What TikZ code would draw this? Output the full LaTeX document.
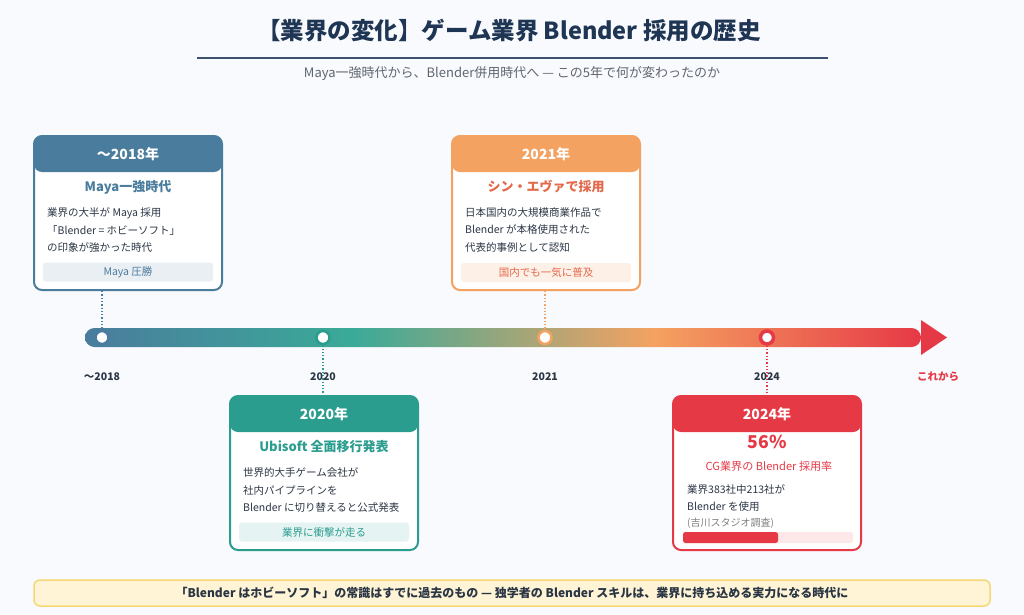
\documentclass[tikz,border=0pt]{standalone}
\usepackage{fontspec}
\setmainfont{Noto Sans CJK JP}
\definecolor{cblue}{HTML}{4A7C9D}
\definecolor{cteal}{HTML}{2A9D8F}
\definecolor{corange}{HTML}{F4A261}
\definecolor{cred}{HTML}{E63946}
\definecolor{ctext}{HTML}{2B3645}
\definecolor{cnavy}{HTML}{1F3554}
\definecolor{cbg}{HTML}{F8FAFD}
\definecolor{ctealb}{HTML}{3AAA98}
\definecolor{ctitleor}{HTML}{E4684A}
\pgfdeclarehorizontalshading{tlshade}{100bp}{color(0bp)=(cblue); color(25bp)=(cblue); color(41bp)=(ctealb); color(59bp)=(corange); color(75bp)=(cred); color(100bp)=(cred)}
\tikzset{
  card/.style={draw=#1, line width=2pt, fill=white, rounded corners=8pt,
    minimum width=188pt, minimum height=154pt, inner sep=0pt,
    path picture={\fill[#1] (path picture bounding box.north west) rectangle ([yshift=-36pt]path picture bounding box.north east);}},
  head/.style={text=white, font=\bfseries\fontsize{14}{16}\selectfont},
  ctitle/.style={text=#1, font=\bfseries\fontsize{13}{16}\selectfont},
  body/.style={text=ctext, anchor=west, align=left, inner sep=0pt, font=\fontsize{10.5}{17.5}\selectfont},
  tag/.style={fill=#1!12, text=#1, rounded corners=3pt, minimum width=170pt, minimum height=19pt, inner sep=0pt, font=\fontsize{10.5}{12}\selectfont},
  dot/.style={circle, fill=white, draw=#1, line width=2.5pt, minimum size=13pt, inner sep=0pt},
  conn/.style={draw=#1, dotted, line width=1.3pt},
  year/.style={text=ctext, font=\bfseries\fontsize{10.5}{12}\selectfont},
}
\begin{document}
\begin{tikzpicture}[x=1pt,y=-1pt]
\useasboundingbox (0,0) rectangle (1024,614);
\fill[cbg] (0,0) rectangle (1024,614);
% title
\node[text=cnavy, font=\bfseries\fontsize{23.5}{28}\selectfont] (title) at (509,31) {【業界の変化】ゲーム業界 Blender 採用の歴史};
\draw[color={rgb,255:red,62;green,80;blue,110}, line width=2pt] (197,58) -- (828,58);
\node[text={rgb,255:red,95;green,102;blue,112}, font=\fontsize{13}{15}\selectfont] (sub) at (512,74) {Maya一強時代から、Blender併用時代へ — この5年で何が変わったのか};
% timeline bar
\shade[shading=tlshade, rounded corners=9.5pt] (85,328) rectangle (921,347);
\fill[cred] (921,320) -- (947,337.5) -- (921,355) -- cycle;
% cards
\node[card=cblue] (c1) at (128,213) {};
\node[card=corange] (c3) at (546,213) {};
\node[card=cteal] (c2) at (324,473) {};
\node[card=cred] (c4) at (767,473) {};
% dots
\node[dot=cblue] (d1) at (102,337.5) {};
\node[dot=cteal] (d2) at (323,337.5) {};
\node[dot=corange] (d3) at (545,337.5) {};
\node[dot=cred, line width=3.5pt] (d4) at (767,337.5) {};
% connectors
\draw[conn=cblue] (c1.south -| d1) -- (d1.north);
\draw[conn=corange] (c3.south -| d3) -- (d3.north);
\draw[conn=cteal] (d2.south) -- (d2.south |- c2.north);
\draw[conn=cred] (d4.south) -- (d4.south |- c4.north);
% year labels
\node[year] (y1) at (102,377) {〜2018};
\node[year] (y2) at (323,377) {2020};
\node[year] (y3) at (545,377) {2021};
\node[year] (y4) at (767,377) {2024};
\node[year, text=cred] (y5) at (938,377) {これから};
% card 1
\node[head] (h1) at (128,154) {〜2018年};
\node[ctitle=cblue] (t1) at (128,187) {Maya一強時代};
\node[body] (b1) at (47,230.5) {業界の大半が Maya 採用\\「Blender = ホビーソフト」\\の印象が強かった時代};
\node[tag=cblue] (g1) at (128,272) {Maya 圧勝};
% card 2021
\node[head] (h3) at (546,154) {2021年};
\node[ctitle=ctitleor] (t3) at (546,187) {シン・エヴァで採用};
\node[body] (b3) at (465,230) {日本国内の大規模商業作品で\\Blender が本格使用された\\代表的事例として認知};
\node[tag=ctitleor, fill=corange!16] (g3) at (546,272.5) {国内でも一気に普及};
% card 2020
\node[head] (h2) at (324,414) {2020年};
\node[ctitle=cteal] (t2) at (324,447) {Ubisoft 全面移行発表};
\node[body] (b2) at (243,490) {世界的大手ゲーム会社が\\社内パイプラインを\\Blender に切り替えると公式発表};
\node[tag=cteal] (g2) at (324,532) {業界に衝撃が走る};
% card 2024
\node[head] (h4) at (767,414) {2024年};
\node[text=cred, font=\bfseries\fontsize{17.7}{20}\selectfont] (p4) at (767,442) {56\%};
\node[text=cred, font=\fontsize{11.1}{13}\selectfont] (s4) at (769,466) {CG業界の Blender 採用率};
\node[body] (b4) at (687,498) {業界383社中213社が\\Blender を使用};
\node[body, text=gray, font=\fontsize{10}{12}\selectfont] (n4) at (687,523) {(吉川スタジオ調査)};
\fill[cred!12, rounded corners=2.5pt] (683,532) rectangle (853,543);
\fill[cred, rounded corners=2.5pt] (683,532) rectangle (778,543);
% bottom banner
\node[fill={rgb,255:red,255;green,245;blue,214}, draw={rgb,255:red,247;green,215;blue,116}, line width=1.5pt, rounded corners=6pt, minimum width=956pt, minimum height=26pt, inner sep=0pt, text=ctext, font=\bfseries\fontsize{12}{14}\selectfont] (ban) at (512,593) {「Blender はホビーソフト」の常識はすでに過去のもの — 独学者の Blender スキルは、業界に持ち込める実力になる時代に};
\end{tikzpicture}
\end{document}
